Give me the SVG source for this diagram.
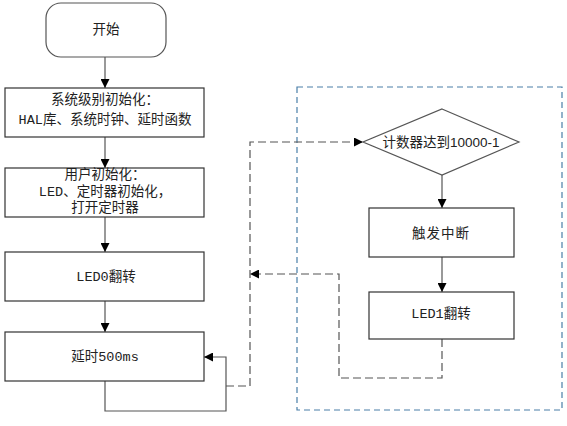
<svg xmlns="http://www.w3.org/2000/svg" width="567" height="426" viewBox="0 0 567 426">
<style>
.box{fill:#fff;stroke:#333;stroke-width:1.2}
.term{fill:#fff;stroke:#555;stroke-width:1.2}
.t{font-family:"Liberation Mono","Noto Sans CJK SC",monospace;font-size:13.5px;fill:#222;text-anchor:middle;dominant-baseline:central}
.s{font-family:"Liberation Sans","Noto Sans CJK SC",sans-serif;font-size:13.5px;fill:#222;text-anchor:middle;dominant-baseline:central}
.c{fill:none;stroke:#555;stroke-width:1.2}
.d{fill:none;stroke:#555;stroke-width:1.2;stroke-dasharray:8 4}
.g{fill:none;stroke:#4a7fa8;stroke-width:1.2;stroke-dasharray:6 4}
</style>
<defs>
<marker id="ah" viewBox="0 0 10 10" refX="10" refY="5" markerWidth="9" markerHeight="9" markerUnits="userSpaceOnUse" orient="auto">
<path d="M0,0 L10,5 L0,10 z" fill="#000"/>
</marker>
</defs>
<g id="group-interrupt">
<rect class="g" x="297" y="87" width="265" height="323"/>
</g>
<g id="connectors">
<line class="c" x1="105" y1="57" x2="105" y2="88" marker-end="url(#ah)"/>
<line class="c" x1="105" y1="137" x2="105" y2="168" marker-end="url(#ah)"/>
<line class="c" x1="105" y1="217" x2="105" y2="252" marker-end="url(#ah)"/>
<line class="c" x1="105" y1="301" x2="105" y2="332" marker-end="url(#ah)"/>
<polyline class="c" points="105,381 105,411 226,411 226,357 204,357" marker-end="url(#ah)"/>
<polyline class="d" points="226,386 250,386 250,142 363,142" marker-end="url(#ah)"/>
<line class="c" x1="442" y1="175" x2="442" y2="208" marker-end="url(#ah)"/>
<line class="c" x1="442" y1="257" x2="442" y2="292" marker-end="url(#ah)"/>
<polyline class="d" points="442,339 442,378 339,378 339,274 250,274" marker-end="url(#ah)"/>
</g>
<g id="start">
<rect class="term" x="46" y="3" width="120" height="54" rx="15"/>
<text class="t" x="106" y="30">开始</text>
</g>
<g id="sys-init">
<rect class="box" x="5" y="88" width="199" height="49"/>
<text class="t" x="105" y="100">系统级别初始化：</text>
<text class="t" x="105" y="120">HAL库、系统时钟、延时函数</text>
</g>
<g id="user-init">
<rect class="box" x="5" y="168" width="199" height="49"/>
<text class="t" x="105" y="175">用户初始化：</text>
<text class="t" x="105" y="192">LED、定时器初始化，</text>
<text class="t" x="105" y="208">打开定时器</text>
</g>
<g id="led0">
<rect class="box" x="5" y="252" width="199" height="49"/>
<text class="t" x="106" y="277">LED0翻转</text>
</g>
<g id="delay">
<rect class="box" x="5" y="332" width="199" height="49"/>
<text class="t" x="105" y="357">延时500ms</text>
</g>
<g id="counter">
<polygon class="term" points="442,109 519,142 442,175 363,142"/>
<text class="s" x="441" y="142">计数器达到10000-1</text>
</g>
<g id="trigger">
<rect class="box" x="369" y="208" width="145" height="49"/>
<text class="s" x="441" y="233" letter-spacing="1">触发中断</text>
</g>
<g id="led1">
<rect class="box" x="369" y="292" width="145" height="47"/>
<text class="t" x="441" y="314">LED1翻转</text>
</g>
</svg>
